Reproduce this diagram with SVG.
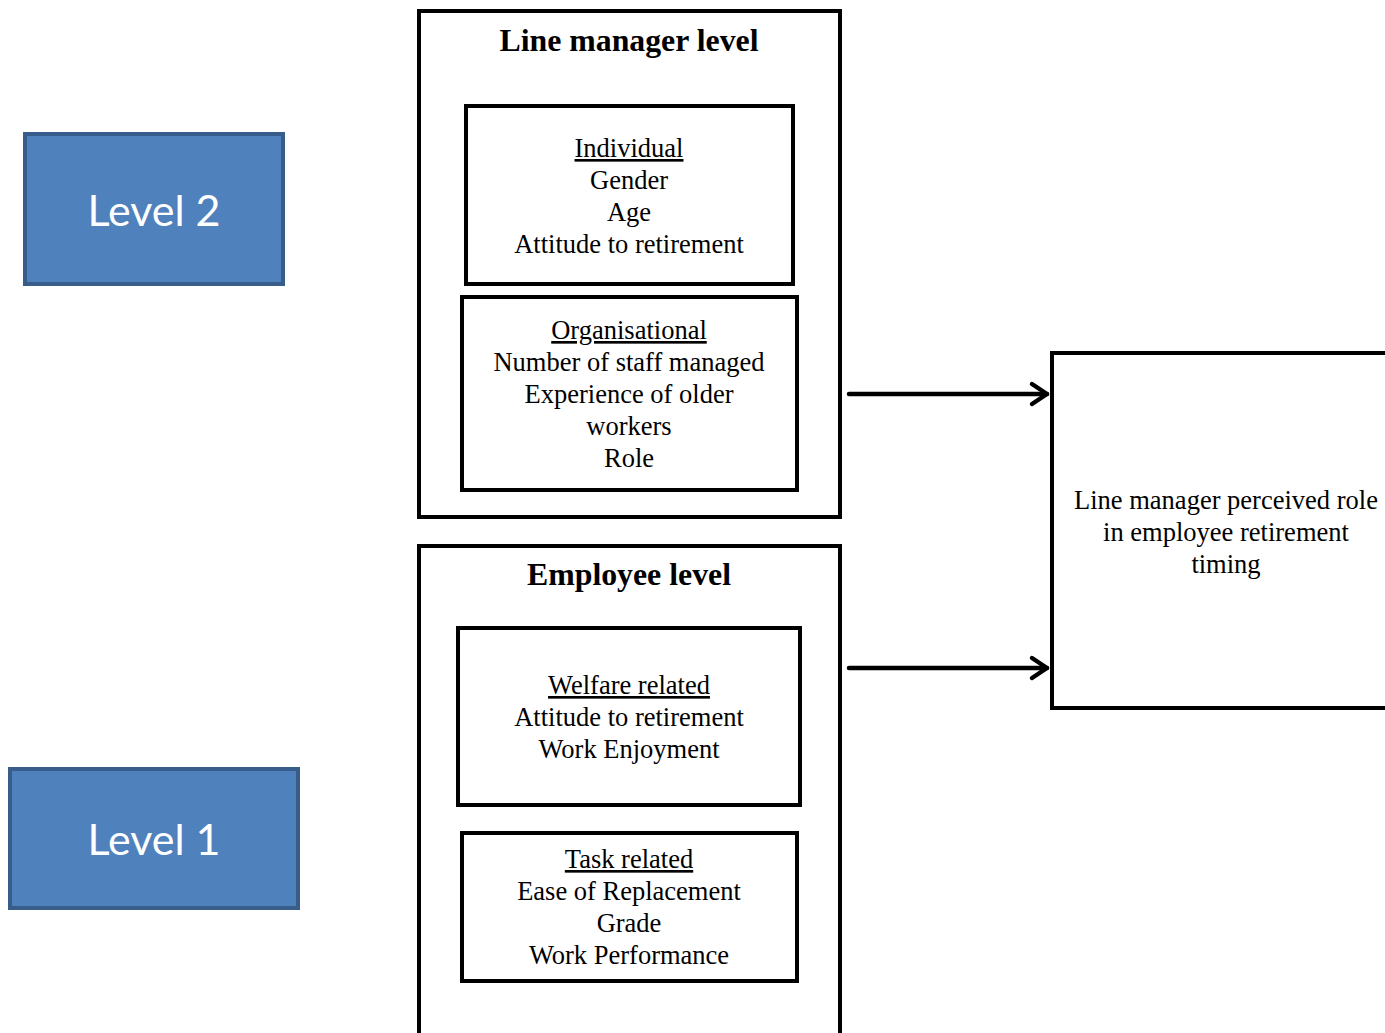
<svg xmlns="http://www.w3.org/2000/svg" width="1385" height="1033" viewBox="0 0 1385 1033">
<defs>
<style>
.lvl{fill:#4F81BD;stroke:#385D8A;stroke-width:4}
.lvlt{font-family:Lato,"Open Sans",sans-serif;font-size:43px;fill:#fff;text-anchor:middle}
.box{fill:#fff;stroke:#000;stroke-width:4}
.t{font-family:"Liberation Serif","Times New Roman",serif;font-size:26.5px;fill:#000;text-anchor:middle}
.h{font-family:"Liberation Serif","Times New Roman",serif;font-size:31.8px;font-weight:bold;fill:#000;text-anchor:middle}
.u{text-decoration:underline}
.conn{stroke:#000;stroke-width:4.5;fill:none;stroke-linecap:round;stroke-linejoin:round}
</style>
</defs>
<g id="level2">
<rect class="lvl" x="25" y="134" width="258" height="150"/>
<text class="lvlt" x="154" y="226">Level 2</text>
</g>
<g id="level1">
<rect class="lvl" x="10" y="769" width="288" height="139"/>
<text class="lvlt" x="154" y="855">Level 1</text>
</g>
<g id="line-manager-level">
<rect class="box" x="419" y="11" width="421" height="506"/>
<text class="h" x="629" y="51">Line manager level</text>
</g>
<g id="individual">
<rect class="box" x="466" y="106" width="327" height="178"/>
<text class="t"><tspan class="u" x="629" y="157">Individual</tspan><tspan x="629" y="189">Gender</tspan><tspan x="629" y="221">Age</tspan><tspan x="629" y="253">Attitude to retirement</tspan></text>
</g>
<g id="organisational">
<rect class="box" x="462" y="297" width="335" height="193"/>
<text class="t"><tspan class="u" x="629" y="339">Organisational</tspan><tspan x="629" y="371">Number of staff managed</tspan><tspan x="629" y="403">Experience of older</tspan><tspan x="629" y="435">workers</tspan><tspan x="629" y="467">Role</tspan></text>
</g>
<g id="employee-level">
<path class="box" d="M419,1036 V546 H840 V1036"/>
<text class="h" x="629" y="585">Employee level</text>
</g>
<g id="welfare">
<rect class="box" x="458" y="628" width="342" height="177"/>
<text class="t"><tspan class="u" x="629" y="694">Welfare related</tspan><tspan x="629" y="726">Attitude to retirement</tspan><tspan x="629" y="758">Work Enjoyment</tspan></text>
</g>
<g id="task">
<rect class="box" x="462" y="833" width="335" height="148"/>
<text class="t"><tspan class="u" x="629" y="868">Task related</tspan><tspan x="629" y="900">Ease of Replacement</tspan><tspan x="629" y="932">Grade</tspan><tspan x="629" y="964">Work Performance</tspan></text>
</g>
<g id="outcome">
<path class="box" d="M1390,353 H1052 V708 H1390"/>
<text class="t"><tspan x="1226" y="509">Line manager perceived role</tspan><tspan x="1226" y="541">in employee retirement</tspan><tspan x="1226" y="573">timing</tspan></text>
</g>
<g id="connectors">
<line class="conn" x1="849" y1="394" x2="1047" y2="394"/>
<path class="conn" d="M1032,384 L1047,394 L1032,404"/>
<line class="conn" x1="849" y1="668" x2="1047" y2="668"/>
<path class="conn" d="M1032,658 L1047,668 L1032,678"/>
</g>
</svg>
